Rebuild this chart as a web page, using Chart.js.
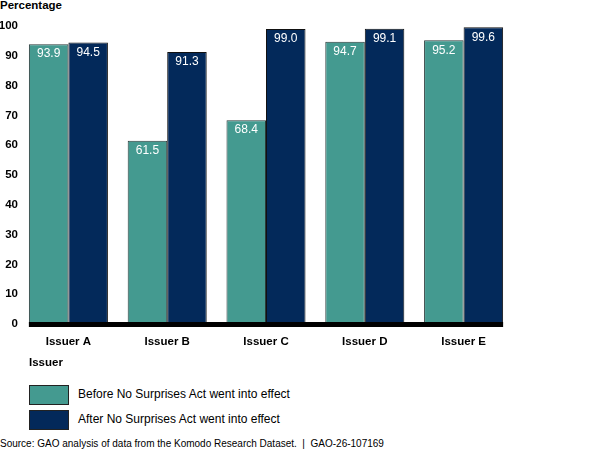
<!DOCTYPE html>
<html>
<head>
<meta charset="utf-8">
<script src="https://cdn.jsdelivr.net/npm/chart.js@4"></script>
<style>
  body { margin: 0; background: #fff; font-family: "Liberation Sans", Arial, sans-serif; }
  #wrap { position: relative; width: 600px; height: 451px; }
  #chartBox { position: absolute; left: 0; top: 0; width: 600px; height: 360px; }
  .txt { position: absolute; color: #000; white-space: nowrap; }
  .key { position: absolute; left: 29px; width: 38px; height: 18px; border: 1px solid #222; }
</style>
</head>
<body>
<div id="wrap">
  <div class="txt" style="left:0;top:-1px;font-size:11.5px;font-weight:bold;">Percentage</div>
  <div id="chartBox"><canvas id="barchart"></canvas></div>
  <div class="txt" style="left:29px;top:356px;font-size:11.5px;font-weight:bold;">Issuer</div>
  <div class="key" style="top:385px;background:#449a90;"></div>
  <div class="txt" style="left:78px;top:387px;font-size:12px;">Before No Surprises Act went into effect</div>
  <div class="key" style="top:410px;background:#03295a;"></div>
  <div class="txt" style="left:78px;top:412px;font-size:12px;">After No Surprises Act went into effect</div>
  <div class="txt" style="left:0;top:438px;font-size:10px;">Source: GAO analysis of data from the Komodo Research Dataset.&nbsp; |&nbsp; GAO-26-107169</div>
</div>
<script>
// data
const issuers = ['Issuer A', 'Issuer B', 'Issuer C', 'Issuer D', 'Issuer E'];
const beforeAct = [93.9, 61.5, 68.4, 94.7, 95.2];
const afterAct = [94.5, 91.3, 99.0, 99.1, 99.6];
const yTicks = [0, 10, 20, 30, 40, 50, 60, 70, 80, 90, 100];

// white value labels inside the top of each bar
const valueLabels = {
    id: 'valueLabels',
    afterDatasetsDraw(chart) {
        const ctx = chart.ctx;
        ctx.save();
        ctx.fillStyle = '#fff';
        ctx.font = '12px "Liberation Sans", Arial, sans-serif';
        ctx.textAlign = 'center';
        ctx.textBaseline = 'middle';
        chart.data.datasets.forEach((ds, i) => {
            chart.getDatasetMeta(i).data.forEach((bar, j) => {
                ctx.fillText(ds.data[j].toFixed(1), bar.x, bar.y + 10);
            });
        });
        ctx.restore();
    }
};

// thick black baseline under the bars
const baseLine = {
    id: 'baseLine',
    afterDatasetsDraw(chart) {
        const first = chart.getDatasetMeta(0).data[0];
        const last = chart.getDatasetMeta(1).data[issuers.length - 1];
        const y0 = chart.scales.y.getPixelForValue(0);
        const left = first.x - first.width / 2;
        const ctx = chart.ctx;
        ctx.save();
        ctx.fillStyle = '#000';
        ctx.fillRect(left, y0 - 2, last.x + last.width / 2 - left, 5);
        ctx.restore();
    }
};

const tickFont = { family: '"Liberation Sans", Arial, sans-serif', size: 11.5, weight: 'bold' };

const config = {
    type: 'bar',
    data: {
        labels: issuers,
        datasets: [{
            label: 'Before No Surprises Act went into effect',
            data: beforeAct,
            backgroundColor: '#449a90',
            borderColor: '#2a3a3a',
            borderWidth: 1,
            borderSkipped: 'bottom'
        }, {
            label: 'After No Surprises Act went into effect',
            data: afterAct,
            backgroundColor: '#03295a',
            borderColor: '#111',
            borderWidth: 1,
            borderSkipped: 'bottom'
        }]
    },
    options: {
        responsive: true,
        maintainAspectRatio: false,
        animation: false,
        categoryPercentage: 0.8,
        barPercentage: 1.0,
        layout: { padding: { top: 26, right: 87, left: 0, bottom: 0 } },
        plugins: {
            legend: { display: false },
            tooltip: { enabled: false }
        },
        scales: {
            x: {
                grid: { display: false, drawTicks: false },
                border: { display: false },
                ticks: { color: '#000', font: tickFont, padding: 11 },
                afterFit: (axis) => { axis.height = 36; }
            },
            y: {
                min: 0,
                max: 100,
                afterBuildTicks: (axis) => { axis.ticks = yTicks.map(v => ({ value: v })); },
                grid: { display: false, drawTicks: false },
                border: { display: false },
                ticks: { color: '#000', font: tickFont, padding: 1 },
                afterFit: (axis) => { axis.width = 19; }
            }
        }
    },
    plugins: [valueLabels, baseLine]
};

const barchart = new Chart(document.getElementById('barchart'), config);
</script>
</body>
</html>
